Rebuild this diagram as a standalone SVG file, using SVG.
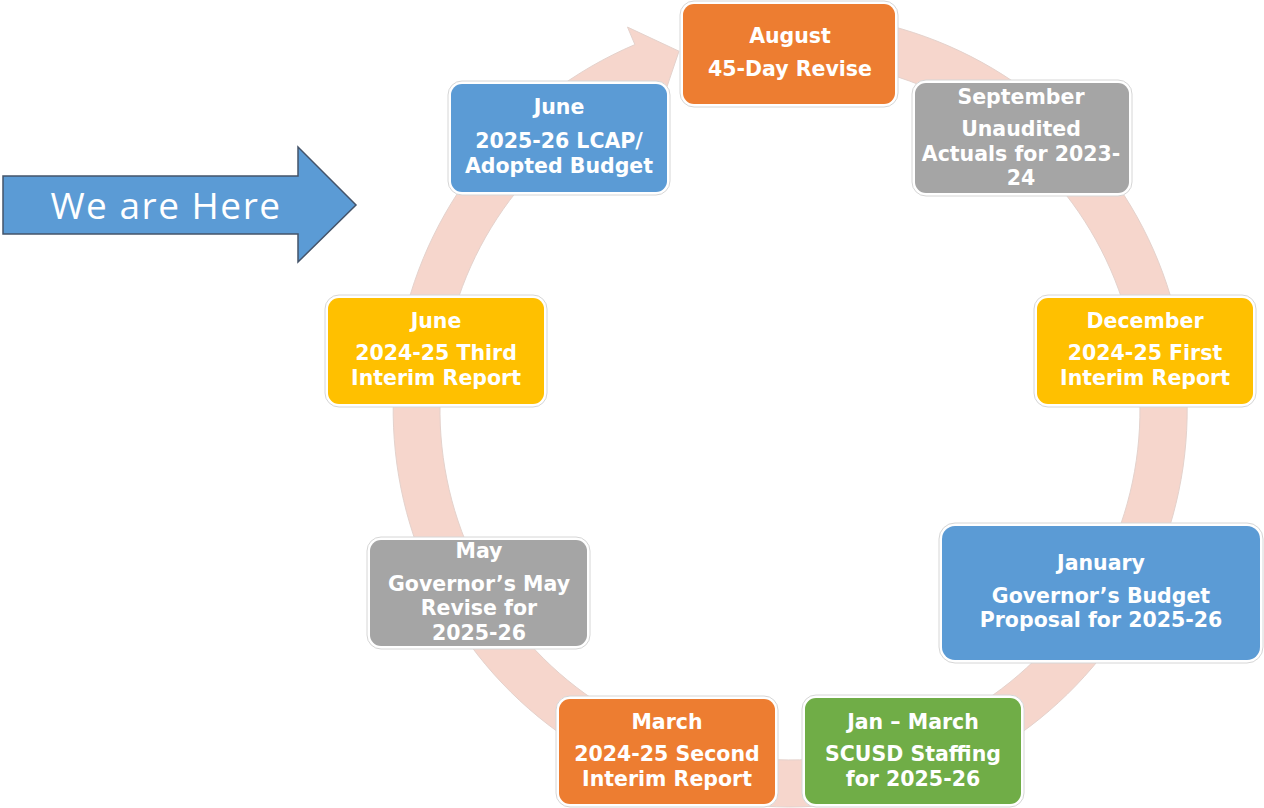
<svg xmlns="http://www.w3.org/2000/svg" width="1264" height="808" viewBox="0 0 1264 808">
<style>
.frame{fill:#ffffff;stroke:#d6d6d6;stroke-width:1}
.t{font-family:"DejaVu Sans","Open Sans",sans-serif;font-weight:bold;font-size:20.5px;fill:#ffffff;text-anchor:middle}
.orange{fill:#ED7D31}.gray{fill:#A5A5A5}.blue{fill:#5B9BD5}.yellow{fill:#FFC000}.green{fill:#70AD47}
</style>
<rect width="1264" height="808" fill="#ffffff"/>
<g id="connectors">
<path id="cycle-ring" d="M755.4,14.5 A397,397 0 1 1 634.9,44.6 L627.5,27.1 L679,51.2 L660.7,105.3 L653.2,87.8 A350,350 0 1 0 759.5,61.3 Z" fill="#F6D6CC" stroke="#e4d2cc" stroke-width="1"/>
</g>
<g id="we-are-here">
<path d="M3,176 L298,176 L298,147 L356,205 L298,262 L298,234 L3,234 Z" fill="#5B9BD5" stroke="#44546A" stroke-width="1.5"/>
<text x="166" y="219" font-family="'Open Sans','Liberation Sans',sans-serif" font-weight="400" font-size="37" letter-spacing="1.5" fill="#ffffff" text-anchor="middle">We are Here</text>
</g>
<g id="node-august">
<rect class="frame" x="680" y="1" width="218" height="106" rx="14"/>
<rect class="orange" x="683" y="4" width="212" height="100" rx="11"/>
<text class="t" x="790" y="43">August</text>
<text class="t" x="790" y="76">45-Day Revise</text>
</g>
<g id="node-september">
<rect class="frame" x="912" y="80" width="220" height="116" rx="14"/>
<rect class="gray" x="915" y="83" width="214" height="110" rx="11"/>
<text class="t" x="1021" y="104">September</text>
<text class="t" x="1021" y="136">Unaudited</text>
<text class="t" x="1021" y="161">Actuals for 2023-</text>
<text class="t" x="1021" y="185">24</text>
</g>
<g id="node-june-lcap">
<rect class="frame" x="448" y="81" width="222" height="114" rx="14"/>
<rect class="blue" x="451" y="84" width="216" height="108" rx="11"/>
<text class="t" x="559" y="114">June</text>
<text class="t" x="559" y="148">2025-26 LCAP/</text>
<text class="t" x="559" y="173">Adopted Budget</text>
</g>
<g id="node-june-third">
<rect class="frame" x="325" y="295" width="222" height="112" rx="14"/>
<rect class="yellow" x="328" y="298" width="216" height="106" rx="11"/>
<text class="t" x="436" y="328">June</text>
<text class="t" x="436" y="360">2024-25 Third</text>
<text class="t" x="436" y="385">Interim Report</text>
</g>
<g id="node-december">
<rect class="frame" x="1034" y="295" width="222" height="112" rx="14"/>
<rect class="yellow" x="1037" y="298" width="216" height="106" rx="11"/>
<text class="t" x="1145" y="328">December</text>
<text class="t" x="1145" y="360">2024-25 First</text>
<text class="t" x="1145" y="385">Interim Report</text>
</g>
<g id="node-january">
<rect class="frame" x="939" y="523" width="324" height="140" rx="16"/>
<rect class="blue" x="942" y="526" width="318" height="134" rx="13"/>
<text class="t" x="1101" y="570">January</text>
<text class="t" x="1101" y="603">Governor’s Budget</text>
<text class="t" x="1101" y="627">Proposal for 2025-26</text>
</g>
<g id="node-may">
<rect class="frame" x="367" y="537" width="223" height="112" rx="14"/>
<rect class="gray" x="370" y="540" width="217" height="106" rx="11"/>
<text class="t" x="479" y="558">May</text>
<text class="t" x="479" y="591">Governor’s May</text>
<text class="t" x="479" y="615">Revise for</text>
<text class="t" x="479" y="640">2025-26</text>
</g>
<g id="node-march">
<rect class="frame" x="556" y="696" width="222" height="111" rx="14"/>
<rect class="orange" x="559" y="699" width="216" height="105" rx="11"/>
<text class="t" x="667" y="729">March</text>
<text class="t" x="667" y="761">2024-25 Second</text>
<text class="t" x="667" y="786">Interim Report</text>
</g>
<g id="node-jan-march">
<rect class="frame" x="802" y="695" width="222" height="112" rx="14"/>
<rect class="green" x="805" y="698" width="216" height="106" rx="11"/>
<text class="t" x="913" y="729">Jan – March</text>
<text class="t" x="913" y="761">SCUSD Staffing</text>
<text class="t" x="913" y="786">for 2025-26</text>
</g>
</svg>
